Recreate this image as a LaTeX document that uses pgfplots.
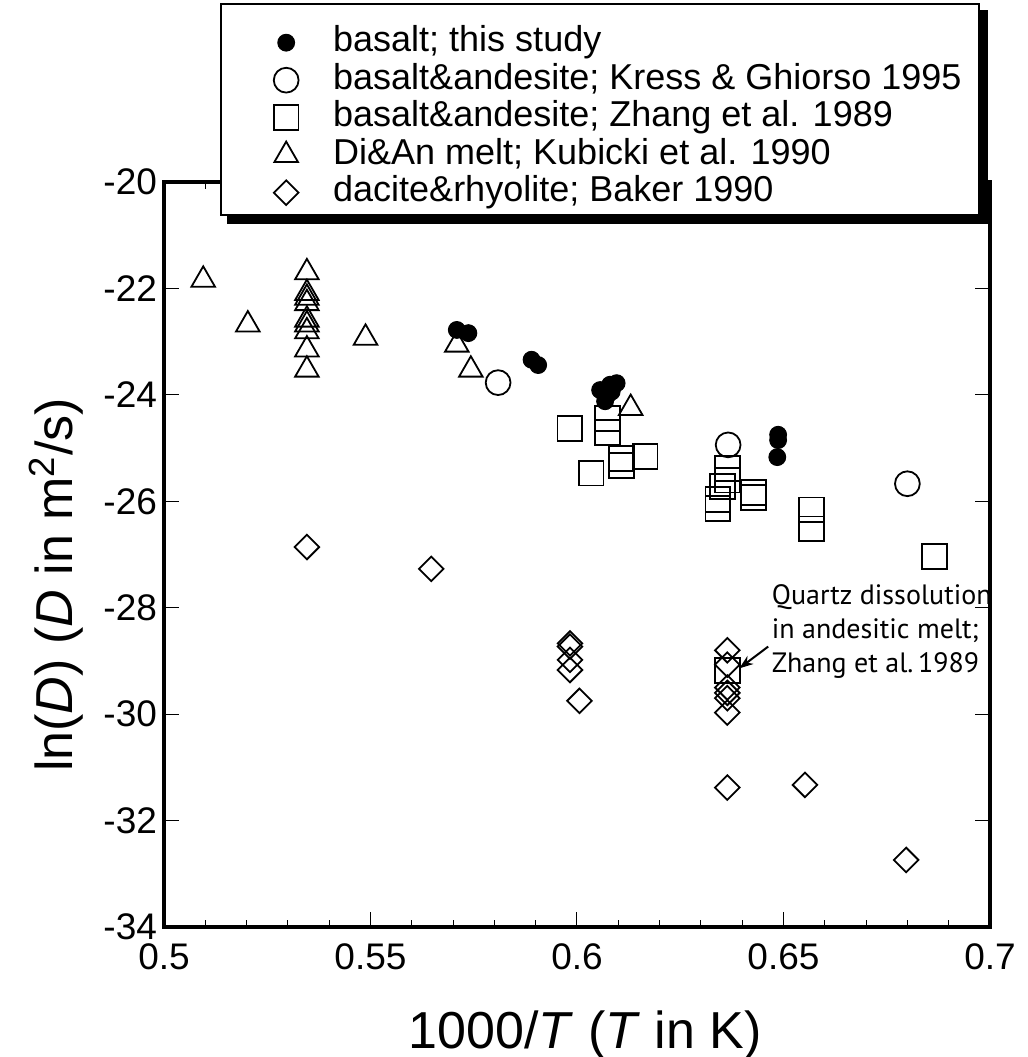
\documentclass[border=0pt]{standalone}
\usepackage{pgfplots}
\pgfplotsset{compat=1.18}
\usepackage{fontspec}
\setmainfont{Liberation Sans}
\newfontfamily\annofont{PT Sans}
\usetikzlibrary{arrows.meta,backgrounds}
\newcommand{\legtxt}[1]{\makebox[323pt][l]{#1}}
\begin{document}
\begin{tikzpicture}
\path[use as bounding box] (-82pt,-65pt) rectangle (432pt,463.5pt);
\begin{axis}[
 scale only axis, width=413pt, height=372.5pt,
 at={(0,0)}, anchor=south west,
 xmin=0.5, xmax=0.7, ymin=-34, ymax=-20,
 xtick={0.5,0.55,0.6,0.65,0.7}, xticklabels={0.5,0.55,0.6,0.65,0.7},
 minor x tick num=4,
 ytick={-34,-32,-30,-28,-26,-24,-22,-20},
 yticklabels={-34,-32,-30,-28,-26,-24,-22,-20},
 tick align=inside, major tick length=7.5pt, minor tick length=3.5pt,
 tick style={black, line width=0.5pt},
 axis line style={line width=2.2pt},
 ticklabel style={font=\fontsize{18.5}{20}\selectfont},
 xticklabel style={yshift=-5pt},
 xlabel={1000/\textit{T} (\textit{T} in K)},
 ylabel={ln(\textit{D}) (\textit{D} in m\textsuperscript{2}/s)},
 label style={font=\fontsize{26}{28}\selectfont},
 xlabel style={at={(axis description cs:0.51,-0.145)}, anchor=center},
 ylabel style={at={(axis description cs:-0.131,0.459)}, anchor=center},
 clip=false,
 legend cell align=left,
 legend image code/.code={\path[draw=none,fill=none] (0pt,-5pt) rectangle (44pt,5pt);
   \pgfinterruptboundingbox\draw[#1] plot coordinates {(32.5pt,-4pt)};\endpgfinterruptboundingbox},
 legend style={at={(axis description cs:0.0678,1.2403)}, anchor=north west,
   name=legbox,
   draw=black, line width=1.2pt, fill=white,
   inner xsep=0pt, inner ysep=6.75pt, row sep=1.75pt, column sep=12pt,
   font=\fontsize{18}{18}\selectfont,
   nodes={inner sep=0pt, text height=17pt, text depth=0pt}},
]
\addplot[only marks, mark=*, mark size=4.2pt, mark options={fill=black, draw=black, line width=0.5pt}] table {
x y
0.5709 -22.78
0.5737 -22.84
0.5890 -23.34
0.5906 -23.44
0.6056 -23.91
0.6068 -24.12
0.6072 -24.03
0.6080 -23.81
0.6084 -23.94
0.6096 -23.78
0.6487 -24.75
0.6487 -24.85
0.6485 -25.17
};
\addlegendentry{\legtxt{basalt; this study}}
\addplot[only marks, mark=o, mark size=6.2pt, mark options={draw=black, line width=0.9pt}] table {
x y
0.5809 -23.77
0.6366 -24.94
0.6800 -25.67
};
\addlegendentry{\legtxt{basalt\&andesite; Kress \& Ghiorso 1995}}
\addplot[only marks, mark=square, mark size=6.2pt, mark options={draw=black, line width=0.9pt}] table {
x y
0.5983 -24.63
0.6074 -24.44
0.6074 -24.71
0.6108 -25.20
0.6108 -25.33
0.6165 -25.16
0.6034 -25.47
0.6364 -25.38
0.6364 -25.60
0.6352 -25.72
0.6341 -25.97
0.6341 -26.13
0.6427 -25.83
0.6427 -25.93
0.6568 -26.16
0.6568 -26.52
0.6865 -27.04
0.6364 -29.18
};
\addlegendentry{\legtxt{basalt\&andesite; Zhang et al. 1989}}
\addplot[only marks, mark=triangle, mark size=6.8pt, mark options={draw=black, line width=0.9pt}] table {
x y
0.5095 -21.84
0.5203 -22.68
0.5346 -21.70
0.5346 -22.09
0.5346 -22.18
0.5346 -22.28
0.5346 -22.59
0.5346 -22.68
0.5346 -22.81
0.5346 -23.15
0.5346 -23.53
0.5488 -22.93
0.5709 -23.06
0.5743 -23.53
0.6130 -24.25
};
\addlegendentry{\legtxt{Di\&An melt; Kubicki et al. 1990}}
\addplot[only marks, mark=square, mark size=4.35pt, mark options={rotate=45, draw=black, line width=0.9pt}] table {
x y
0.5346 -26.86
0.5647 -27.27
0.5983 -28.67
0.5983 -28.73
0.5983 -28.98
0.5983 -29.17
0.6006 -29.75
0.6364 -28.80
0.6364 -29.07
0.6364 -29.50
0.6364 -29.60
0.6364 -29.70
0.6364 -29.97
0.6364 -31.38
0.6552 -31.33
0.6797 -32.74
};
\addlegendentry{\legtxt{dacite\&rhyolite; Baker 1990}}
\node[anchor=west, inner sep=0pt, align=left, font=\annofont\fontsize{14}{17}\selectfont] at (axis cs:0.6471,-28.44) {Quartz dissolution\\in andesitic melt;\\Zhang et al.\,1989};
\draw[-{Stealth[length=7pt,width=5pt]}, line width=1pt] (axis cs:0.6463,-28.73) -- (axis cs:0.6393,-29.14);
\end{axis}
\begin{scope}[on background layer]
\fill[black] ([xshift=3.6pt,yshift=-3.6pt]legbox.south west) rectangle ([xshift=3.6pt,yshift=-3.6pt]legbox.north east);
\end{scope}
\end{tikzpicture}
\end{document}
